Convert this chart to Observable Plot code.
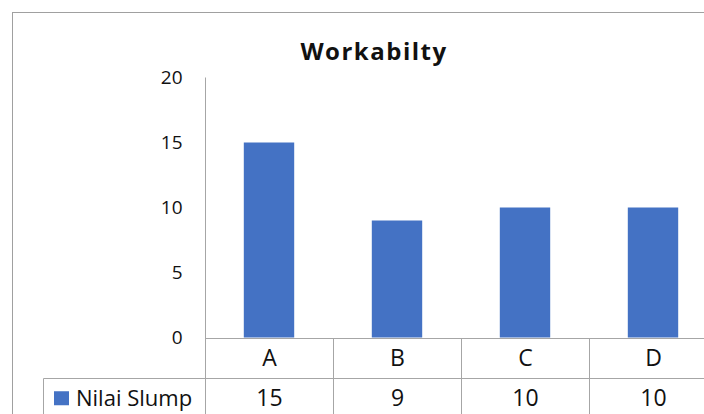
<!DOCTYPE html>
<html><head><meta charset="utf-8">
<script src="https://cdn.jsdelivr.net/npm/d3@7"></script>
<script src="https://cdn.jsdelivr.net/npm/@observablehq/plot@0.6"></script>
<style>
html,body{margin:0;padding:0;background:#fff;overflow:hidden;}
#wrap{position:relative;width:704px;height:414px;overflow:hidden;font-family:"Open Sans",sans-serif;color:#111;}
#frame{position:absolute;left:12px;top:12px;width:740px;height:430px;border:1px solid #a0a0a0;box-sizing:border-box;}
#title{position:absolute;left:0;width:748px;top:39px;line-height:24px;text-align:center;font-weight:700;font-size:24px;letter-spacing:1.5px;}
#chart{position:absolute;left:0;top:0;width:718px;}
#chart svg{max-width:none !important;width:718px;height:414px;}
</style>
</head><body>
<div id="wrap"><div id="frame"></div><div id="chart"></div><div id="title">Workabilty</div></div>
<script>
const categories = ["A", "B", "C", "D"];
const values = [15, 9, 10, 10];
const seriesName = "Nilai Slump";
const yTicks = [0, 5, 10, 15, 20];
const barColor = "#4472C4";
const lineColor = "#a6a6a6";
const textColor = "#111";

const data = categories.map((c, i) => ({cat: c, value: values[i]}));

function table(index, scales, vals, dims) {
  const x = scales.x, y = scales.y;
  const step = x.step ? x.step() : x.bandwidth();
  const px = v => Math.round(v) + 0.5;
  const left = x(categories[0]);
  const right = x(categories[categories.length - 1]) + step;
  const y0 = y(0), yTop = y(d3.max(yTicks));
  const rowH = 40.5;
  const legendLeft = 43;
  const bottom = dims.height + 10;
  const g = d3.create("svg:g");
  const lines = g.append("g").attr("stroke", lineColor).attr("stroke-width", 1).attr("fill", "none");
  lines.append("line").attr("x1", px(left)).attr("x2", px(left)).attr("y1", yTop).attr("y2", bottom);
  lines.append("line").attr("x1", px(left)).attr("x2", right).attr("y1", px(y0)).attr("y2", px(y0));
  lines.append("line").attr("x1", px(legendLeft)).attr("x2", right).attr("y1", px(y0 + rowH)).attr("y2", px(y0 + rowH));
  categories.forEach(c => {
    const xe = x(c) + step;
    lines.append("line").attr("x1", px(xe)).attr("x2", px(xe)).attr("y1", px(y0)).attr("y2", bottom);
  });
  lines.append("line").attr("x1", px(legendLeft)).attr("x2", px(legendLeft)).attr("y1", px(y0 + rowH)).attr("y2", bottom);
  const rowMid = y0 + rowH * 1.5;
  g.append("rect").attr("x", legendLeft + 11).attr("y", rowMid - 7).attr("width", 15).attr("height", 14).attr("fill", barColor);
  g.append("text").attr("x", legendLeft + 33).attr("y", rowMid).attr("dy", "0.35em")
    .attr("text-anchor", "start").attr("font-size", 22).attr("fill", textColor).text(seriesName);
  return g.node();
}

const plot = Plot.plot({
  width: 718,
  height: 414,
  marginLeft: 203,
  marginRight: 0,
  marginTop: 77.5,
  marginBottom: 76.5,
  style: {fontFamily: "Open Sans", fontSize: "17px", color: textColor, background: "transparent", overflow: "visible"},
  x: {type: "band", domain: categories, padding: 0, axis: null},
  y: {domain: [0, 20], axis: null},
  marks: [
    Plot.barY(data, {x: "cat", y: "value", fill: barColor, insetLeft: 38.8, insetRight: 38.8}),
    table,
    Plot.text(yTicks, {y: d => d, text: d => String(d), frameAnchor: "left", dx: -21, textAnchor: "end", lineAnchor: "middle", fontSize: 19, fill: textColor}),
    Plot.text(categories, {x: d => d, text: d => d, frameAnchor: "bottom", lineAnchor: "middle", dy: 20.5, fontSize: 23, fill: textColor}),
    Plot.text(data, {x: "cat", text: d => String(d.value), frameAnchor: "bottom", lineAnchor: "middle", dy: 61, fontSize: 23, fill: textColor})
  ]
});
document.getElementById("chart").appendChild(plot);
</script>
</body></html>
